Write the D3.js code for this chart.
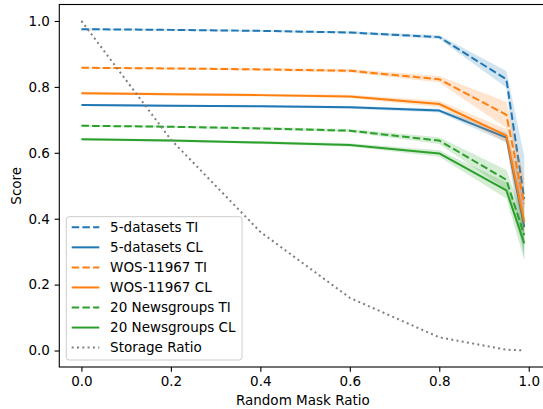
<!DOCTYPE html>
<html>
<head>
<meta charset="utf-8">
<script src="https://cdn.jsdelivr.net/npm/d3@7"></script>
<style>
	body { margin: 0; background: #fff; }
	text { font-family: "DejaVu Sans", sans-serif; font-size: 13.5px; fill: #000; }
	.axis path { display: none; }
	.axis line { stroke: #000; stroke-width: 1.1; }
</style>
</head>
<body>
<div id="chart"></div>
<script>
//--------------------------------- Data ---------------------------------------
var maskRatio = [0, 0.2, 0.4, 0.6, 0.8, 0.95, 0.99];
var storageRatio = [1.0, 0.64, 0.36, 0.16, 0.04, 0.0025, 0.0001];

var fiveTI    = [0.975, 0.973, 0.970, 0.965, 0.951, 0.823, 0.46];
var fiveTIStd = [0.003, 0.003, 0.003, 0.004, 0.006, 0.025, 0.13];
var fiveCL    = [0.745, 0.743, 0.741, 0.738, 0.728, 0.646, 0.375];
var fiveCLStd = [0.003, 0.003, 0.003, 0.004, 0.006, 0.015, 0.10];
var wosTI     = [0.858, 0.856, 0.853, 0.849, 0.823, 0.715, 0.445];
var wosTIStd  = [0.003, 0.003, 0.004, 0.005, 0.010, 0.040, 0.08];
var wosCL     = [0.781, 0.778, 0.775, 0.771, 0.748, 0.652, 0.39];
var wosCLStd  = [0.004, 0.004, 0.004, 0.005, 0.010, 0.020, 0.07];
var ngTI      = [0.682, 0.679, 0.674, 0.667, 0.637, 0.518, 0.35];
var ngTIStd   = [0.003, 0.003, 0.004, 0.005, 0.010, 0.030, 0.05];
var ngCL      = [0.641, 0.637, 0.631, 0.624, 0.598, 0.486, 0.325];
var ngCLStd   = [0.004, 0.004, 0.004, 0.005, 0.010, 0.025, 0.05];

var seriesNames = ["5-datasets TI", "5-datasets CL", "WOS-11967 TI", "WOS-11967 CL",
	"20 Newsgroups TI", "20 Newsgroups CL", "Storage Ratio"];
var xTicks = [0, 0.2, 0.4, 0.6, 0.8, 1.0];
var yTicks = [0, 0.2, 0.4, 0.6, 0.8, 1.0];

var series = [
	{name: seriesNames[0], values: fiveTI, std: fiveTIStd, color: "#1f77b4", dash: "7.5,3.2"},
	{name: seriesNames[1], values: fiveCL, std: fiveCLStd, color: "#1f77b4", dash: null},
	{name: seriesNames[2], values: wosTI, std: wosTIStd, color: "#ff7f0e", dash: "7.5,3.2"},
	{name: seriesNames[3], values: wosCL, std: wosCLStd, color: "#ff7f0e", dash: null},
	{name: seriesNames[4], values: ngTI, std: ngTIStd, color: "#2ca02c", dash: "7.5,3.2"},
	{name: seriesNames[5], values: ngCL, std: ngCLStd, color: "#2ca02c", dash: null},
	{name: seriesNames[6], values: storageRatio, std: null, color: "#7f7f7f", dash: "2,3.3"}
];

//--------------------------------- Set up svg ---------------------------------------
var width = 543, height = 409;
var plot = {left: 59.3, right: 546.4, top: 4.5, bottom: 367};

var svg = d3.select("#chart")
	.append("svg")
	.attr("width", width)
	.attr("height", height);

var x = d3.scaleLinear()
	.domain([-0.0495, 1.0395])
	.range([plot.left, plot.right]);
var y = d3.scaleLinear()
	.domain([-0.05, 1.05])
	.range([plot.bottom, plot.top]);

//--------------------------------- Bands and lines ---------------------------------------
var line = d3.line()
	.x(function(d) { return x(d.x); })
	.y(function(d) { return y(d.y); });
var area = d3.area()
	.x(function(d) { return x(d.x); })
	.y0(function(d) { return y(d.y - d.s); })
	.y1(function(d) { return y(d.y + d.s); });

var lineWrapper = svg.append("g");

series.forEach(function(s) {
	var pts = maskRatio.map(function(m, i) {
		return {x: m, y: s.values[i], s: s.std ? s.std[i] : 0};
	});
	if (s.std) {
		lineWrapper.append("path")
			.attr("d", area(pts))
			.style("fill", s.color)
			.style("fill-opacity", 0.2)
			.style("stroke", "none");
	}
	lineWrapper.append("path")
		.attr("d", line(pts))
		.style("fill", "none")
		.style("stroke", s.color)
		.style("stroke-width", 2)
		.style("stroke-dasharray", s.dash)
		.style("stroke-linejoin", "round");
});

//--------------------------------- Axes ---------------------------------------
svg.append("g")
	.attr("class", "axis")
	.attr("transform", "translate(0," + plot.bottom + ")")
	.call(d3.axisBottom(x).tickValues(xTicks).tickFormat(d3.format(".1f"))
		.tickSize(4.7).tickPadding(4.5));

svg.append("g")
	.attr("class", "axis")
	.attr("transform", "translate(" + plot.left + ",0)")
	.call(d3.axisLeft(y).tickValues(yTicks).tickFormat(d3.format(".1f"))
		.tickSize(4.7).tickPadding(4.7));

svg.selectAll(".axis text").style("font-size", "13.5px").style("fill", "#000");

//spines
svg.append("rect")
	.attr("x", plot.left)
	.attr("y", plot.top)
	.attr("width", plot.right - plot.left)
	.attr("height", plot.bottom - plot.top)
	.style("fill", "none")
	.style("stroke", "#000")
	.style("stroke-width", 1.1);

svg.append("text")
	.attr("x", (plot.left + plot.right) / 2)
	.attr("y", 405)
	.style("text-anchor", "middle")
	.text("Random Mask Ratio");

svg.append("text")
	.attr("transform", "translate(20.5," + ((plot.top + plot.bottom) / 2) + ") rotate(-90)")
	.style("text-anchor", "middle")
	.text("Score");

//--------------------------------- Legend ---------------------------------------
var legend = svg.append("g")
	.attr("class", "legendWrapper")
	.attr("transform", "translate(66.3,216.7)");

legend.append("rect")
	.attr("width", 175.7)
	.attr("height", 143.3)
	.attr("rx", 2.8)
	.style("fill", "#fff")
	.style("fill-opacity", 0.8)
	.style("stroke", "#cccccc")
	.style("stroke-width", 1);

var entries = legend.selectAll(".legendEntry")
	.data(series)
	.enter().append("g")
	.attr("class", "legendEntry")
	.attr("transform", function(d, i) { return "translate(0," + (10.6 + i * 20.05) + ")"; });

entries.append("line")
	.attr("x1", 5.4)
	.attr("x2", 33)
	.style("stroke", function(d) { return d.color; })
	.style("stroke-width", 2)
	.style("stroke-dasharray", function(d) { return d.dash; });

entries.append("text")
	.attr("x", 43.8)
	.attr("dy", "0.36em")
	.text(function(d) { return d.name; });
</script>
</body>
</html>
